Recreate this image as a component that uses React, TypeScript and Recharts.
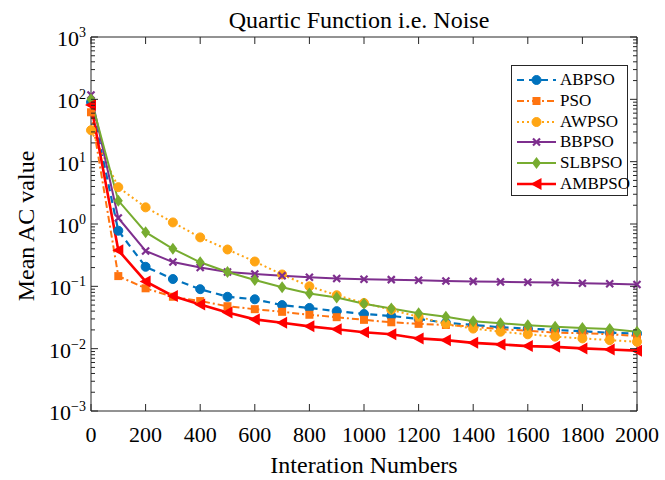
import { LineChart, Line, XAxis, YAxis, Legend } from "recharts";

const iterations = [0, 100, 200, 300, 400, 500, 600, 700, 800, 900, 1000, 1100, 1200, 1300, 1400, 1500, 1600, 1700, 1800, 1900, 2000];
const abpso = [90, 0.78, 0.206, 0.131, 0.09, 0.068, 0.062, 0.05, 0.045, 0.04, 0.036, 0.0335, 0.03, 0.026, 0.024, 0.022, 0.021, 0.02, 0.019, 0.018, 0.0175];
const pso = [62, 0.146, 0.093, 0.068, 0.058, 0.048, 0.043, 0.039, 0.035, 0.032, 0.029, 0.0265, 0.025, 0.024, 0.0225, 0.0205, 0.0194, 0.018, 0.0177, 0.017, 0.016];
const awpso = [32, 3.9, 1.85, 1.06, 0.61, 0.39, 0.25, 0.155, 0.1, 0.072, 0.054, 0.042, 0.0325, 0.025, 0.021, 0.0187, 0.017, 0.0156, 0.0146, 0.0137, 0.0129];
const bbpso = [117, 1.25, 0.37, 0.245, 0.2, 0.17, 0.158, 0.148, 0.14, 0.134, 0.13, 0.128, 0.125, 0.122, 0.12, 0.118, 0.116, 0.115, 0.112, 0.11, 0.107];
const slbpso = [100, 2.37, 0.74, 0.4, 0.243, 0.17, 0.126, 0.097, 0.077, 0.066, 0.0525, 0.044, 0.037, 0.0325, 0.0275, 0.0255, 0.0237, 0.0225, 0.0214, 0.0206, 0.0187];
const ambpso = [81, 0.38, 0.12, 0.07, 0.051, 0.038, 0.0295, 0.026, 0.0228, 0.0205, 0.0183, 0.017, 0.0146, 0.0137, 0.0124, 0.0117, 0.011, 0.0107, 0.0101, 0.0097, 0.0093];

const xTicks = [0, 200, 400, 600, 800, 1000, 1200, 1400, 1600, 1800, 2000];
const yTicks: number[] = [];
for (let e = -3; e < 3; e++) for (let m = 1; m < 10; m++) yTicks.push(m * Math.pow(10, e));
yTicks.push(1000);

const data = iterations.map((it, i) => ({
  it,
  ABPSO: abpso[i],
  PSO: pso[i],
  AWPSO: awpso[i],
  BBPSO: bbpso[i],
  SLBPSO: slbpso[i],
  AMBPSO: ambpso[i],
}));

const FONT = "'Liberation Serif', 'Times New Roman', serif";
const AXIS = "#262626";

const series = [
  { key: "ABPSO", color: "#0072BD", dash: "7 5", marker: "circle", width: 2.2 },
  { key: "PSO", color: "#FF7410", dash: "7 3 2 3", marker: "square", width: 2 },
  { key: "AWPSO", color: "#FFA514", dash: "2 3", marker: "circle", width: 2 },
  { key: "BBPSO", color: "#7E2F8E", dash: undefined, marker: "x", width: 2 },
  { key: "SLBPSO", color: "#77AC30", dash: undefined, marker: "diamond", width: 2 },
  { key: "AMBPSO", color: "#FF0000", dash: undefined, marker: "triangle", width: 2.6 },
];

function Marker({ cx, cy, type, color }: { cx: number; cy: number; type: string; color: string }) {
  if (cx == null || cy == null || isNaN(cx) || isNaN(cy)) return null;
  if (type === "circle") return <circle cx={cx} cy={cy} r={4.5} fill={color} stroke={color} />;
  if (type === "square") return <rect x={cx - 4} y={cy - 4} width={8} height={8} fill={color} />;
  if (type === "diamond")
    return <polygon points={`${cx},${cy - 6} ${cx + 4.5},${cy} ${cx},${cy + 6} ${cx - 4.5},${cy}`} fill={color} />;
  if (type === "triangle")
    return <polygon points={`${cx - 6},${cy} ${cx + 5},${cy - 6} ${cx + 5},${cy + 6}`} fill={color} />;
  return (
    <g stroke={color} strokeWidth={2.2}>
      <line x1={cx - 3.5} y1={cy - 3.5} x2={cx + 3.5} y2={cy + 3.5} />
      <line x1={cx - 3.5} y1={cy + 3.5} x2={cx + 3.5} y2={cy - 3.5} />
    </g>
  );
}

const isMajor = (v: number) => Math.abs(Math.log10(v) - Math.round(Math.log10(v))) < 1e-6;

const YTickLeft = (props: any) => {
  const { x, y, payload } = props;
  const v = payload.value;
  const major = isMajor(v);
  const e = Math.round(Math.log10(v));
  return (
    <g>
      <line x1={x} y1={y} x2={x + (major ? 7 : 4)} y2={y} stroke={AXIS} />
      {major && (
        <text x={x - 5} y={y + 9} textAnchor="end" fontSize={22} fontFamily={FONT} fill="#000">
          10<tspan dy={-9} fontSize={14}>{e < 0 ? `\u2212${-e}` : e}</tspan>
        </text>
      )}
    </g>
  );
};

const YTickRight = (props: any) => {
  const { x, y, payload } = props;
  const major = isMajor(payload.value);
  return <line x1={x} y1={y} x2={x - (major ? 7 : 4)} y2={y} stroke={AXIS} />;
};

const XTickBottom = (props: any) => {
  const { x, y, payload } = props;
  return (
    <g>
      <line x1={x} y1={y} x2={x} y2={y - 7} stroke={AXIS} />
      <text x={x} y={y + 31} textAnchor="middle" fontSize={22} fontFamily={FONT} fill="#000">
        {payload.value}
      </text>
    </g>
  );
};

const XTickTop = (props: any) => {
  const { x, y } = props;
  return <line x1={x} y1={y} x2={x} y2={y + 7} stroke={AXIS} />;
};

const renderLegend = () => (
  <div
    style={{
      border: `1px solid ${AXIS}`,
      background: "#fff",
      boxSizing: "border-box",
      width: 117,
      height: 131,
      padding: "4px 0 0 4px",
      fontFamily: FONT,
      fontSize: 17,
    }}
  >
    {series.map((s) => (
      <div key={s.key} style={{ display: "flex", alignItems: "center", height: 20.7 }}>
        <svg width={42} height={20} style={{ flex: "none" }}>
          <line x1={1} y1={10} x2={40} y2={10} stroke={s.color} strokeWidth={s.width} strokeDasharray={s.dash} />
          <Marker cx={20.5} cy={10} type={s.marker} color={s.color} />
        </svg>
        <span style={{ marginLeft: 2, lineHeight: "20px" }}>{s.key}</span>
      </div>
    ))}
  </div>
);

const labelStyle = {
  position: "absolute" as const,
  textAlign: "center" as const,
  fontFamily: FONT,
  fontSize: 24,
  lineHeight: "24px",
  whiteSpace: "nowrap" as const,
};

export default function App() {
  return (
    <div style={{ position: "absolute", left: 0, top: 0, width: 665, height: 480, background: "#fff" }}>
      <div style={{ ...labelStyle, left: 86, width: 546, top: 8 }}>Quartic Function i.e. Noise</div>
      <div style={{ ...labelStyle, left: 91, width: 546, top: 453 }}>Interation Numbers</div>
      <div
        style={{
          ...labelStyle,
          left: 25.5 - 100,
          top: 226 - 12,
          width: 200,
          transform: "rotate(-90deg)",
        }}
      >
        Mean AC value
      </div>
      <LineChart
        width={665}
        height={480}
        data={data}
        margin={{ top: 27, right: 18, bottom: 39, left: 31 }}
        style={{ position: "absolute", left: 0, top: 0 }}
      >
        <XAxis
          xAxisId="b"
          dataKey="it"
          type="number"
          domain={[0, 2000]}
          ticks={xTicks}
          interval={0}
          height={30}
          stroke={AXIS}
          tickLine={false}
          tickSize={0}
          tickMargin={0}
          tick={<XTickBottom />}
        />
        <XAxis
          xAxisId="t"
          orientation="top"
          dataKey="it"
          type="number"
          domain={[0, 2000]}
          ticks={xTicks}
          interval={0}
          height={10}
          stroke={AXIS}
          tickLine={false}
          tickSize={0}
          tickMargin={0}
          tick={<XTickTop />}
        />
        <YAxis
          yAxisId="l"
          scale="log"
          domain={[0.001, 1000]}
          allowDataOverflow
          ticks={yTicks}
          interval={0}
          width={60}
          stroke={AXIS}
          tickLine={false}
          tickSize={0}
          tickMargin={0}
          tick={<YTickLeft />}
        />
        <YAxis
          yAxisId="r"
          orientation="right"
          scale="log"
          domain={[0.001, 1000]}
          allowDataOverflow
          ticks={yTicks}
          interval={0}
          width={10}
          stroke={AXIS}
          tickLine={false}
          tickSize={0}
          tickMargin={0}
          tick={<YTickRight />}
        />
        <Legend
          layout="vertical"
          align="center"
          verticalAlign="middle"
          content={renderLegend}
          wrapperStyle={{ left: 511, top: 65, width: 117, height: 131 }}
        />
        {series.map((s) => (
          <Line
            key={s.key}
            xAxisId="b"
            yAxisId="l"
            dataKey={s.key}
            stroke={s.color}
            strokeWidth={s.width}
            strokeDasharray={s.dash}
            isAnimationActive={false}
            dot={(p: any) => (
              <g key={p.key ?? `${s.key}-${p.index}`}>
                <Marker cx={p.cx} cy={p.cy} type={s.marker} color={s.color} />
              </g>
            )}
            activeDot={false}
          />
        ))}
      </LineChart>
    </div>
  );
}
